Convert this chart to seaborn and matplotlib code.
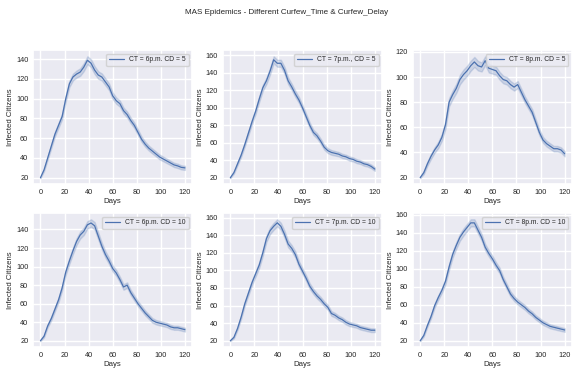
import pandas as pd
import seaborn as sns
import matplotlib.pyplot as plt

days = list(range(0, 121, 3))

# mean infected citizens per scenario
ct6_cd5 = [20, 28, 40, 52, 64, 73, 82, 100, 115, 122, 125, 127, 132, 139, 136, 129, 124, 122, 117, 112, 103,
           98, 95, 88, 84, 78, 73, 66, 59, 54, 50, 47, 44, 41, 39, 37, 35, 33, 32, 30.5, 30]
ct7_cd5 = [20, 26, 36, 46, 58, 71, 84, 96, 110, 123, 131, 142, 155, 151, 151, 143, 131, 124, 116, 109, 100,
           90, 80, 72, 68, 62, 55, 51, 49, 48, 47, 45, 44, 42, 41, 39, 38, 36, 35, 33, 30]
ct8_cd5 = [20, 24, 31, 37, 42, 46, 52, 62, 80, 86, 91, 98, 102, 105, 109, 112, 109, 108, 113, 107, 106,
           105, 101, 98, 97, 94, 92, 94, 88, 82, 77, 72, 64, 56, 50, 47, 45, 43, 43, 42, 39]
ct6_cd10 = [20, 25, 36, 44, 54, 64, 77, 94, 106, 117, 127, 134, 138, 145, 147, 144, 133, 122, 113, 106, 98,
            93, 86, 78, 80, 72, 66, 60, 55, 50, 46, 42, 40, 39, 38, 37, 35, 34, 34, 33, 32]
ct7_cd10 = [20, 24, 34, 47, 62, 74, 86, 96, 106, 120, 136, 145, 150, 154, 150, 141, 130, 125, 118, 107, 99,
            91, 82, 76, 71, 67, 62, 58, 51, 49, 46, 44, 41, 39, 38, 37, 35, 34, 33, 32, 32]
ct8_cd10 = [20, 26, 37, 47, 59, 68, 76, 86, 102, 116, 126, 135, 141, 146, 151, 151, 143, 135, 124, 117, 111,
            104, 98, 88, 80, 72, 67, 63, 60, 57, 53, 50, 46, 43, 40, 38, 36, 35, 34, 33, 32]

# half width of the band over the runs
spread = [0.4, 1.2, 1.6, 2, 2.2, 2.5, 2.7, 3, 3.2, 3.4, 3.6, 3.8, 4, 4, 4, 4, 3.8, 3.6, 3.5, 3.4, 3.3,
          3.2, 3.1, 3, 3, 2.9, 2.8, 2.8, 2.7, 2.6, 2.5, 2.5, 2.4, 2.4, 2.3, 2.3, 2.2, 2.2, 2.2, 2.1, 2.1]

series = [ct6_cd5, ct7_cd5, ct8_cd5, ct6_cd10, ct7_cd10, ct8_cd10]
labels = ['CT = 6p.m. CD = 5', 'CT = 7p.m., CD = 5', 'CT = 8p.m. CD = 5',
          'CT = 6p.m. CD = 10', 'CT = 7p.m. CD = 10', 'CT = 8p.m. CD = 10']

sns.set_theme(style='darkgrid')
plt.rcParams['font.family'] = ['Liberation Sans', 'DejaVu Sans']

fig, axes = plt.subplots(2, 3, figsize=(5.73, 3.69), dpi=100)
fig.subplots_adjust(left=0.058, right=0.998, top=0.864, bottom=0.059, wspace=0.195, hspace=0.216)

for ax, vals, lab in zip(axes.flat, series, labels):
    # two rows per day (low / high) -> mean line and min-max band
    rows = []
    for d, v, s in zip(days, vals, spread):
        rows.append({'Days': d, 'Infected Citizens': v - s})
        rows.append({'Days': d, 'Infected Citizens': v + s})
    df = pd.DataFrame(rows)
    sns.lineplot(data=df, x='Days', y='Infected Citizens', errorbar=('pi', 100),
                 ax=ax, label=lab, linewidth=0.9, color='#4c72b0')
    ax.set_xticks([0, 20, 40, 60, 80, 100, 120])
    ax.tick_params(labelsize=5.3, length=0, pad=3.5)
    ax.set_xlabel('Days', fontsize=5.6, labelpad=1.2)
    ax.set_ylabel('Infected Citizens', fontsize=5.6, labelpad=1.5)
    ax.legend(loc='upper right', fontsize=4.9, handlelength=2.2, borderpad=0.4)

fig.suptitle('MAS Epidemics - Different Curfew_Time & Curfew_Delay', fontsize=5.8, y=0.975)

plt.savefig('out.png', dpi=100)
plt.close()
